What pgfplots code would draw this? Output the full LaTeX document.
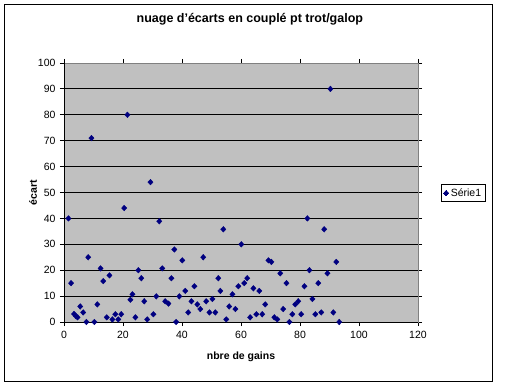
\documentclass[border=0pt]{standalone}
\usepackage{pgfplots}
\pgfplotsset{compat=1.18}
\usepackage{fontspec}
\setmainfont{Liberation Sans}
\definecolor{plotbg}{RGB}{192,192,192}
\definecolor{navy}{RGB}{0,0,128}
\begin{document}
\begin{tikzpicture}
\begin{axis}[
  at={(0,0)}, anchor=south west,
  scale only axis, width=354bp, height=259bp,
  xmin=0, xmax=120, ymin=0, ymax=100,
  xtick={0,20,...,120}, ytick={0,10,...,100},
  tick align=outside, major tick length=4bp,
  tick style={black, line width=0.8bp},
  axis background/.style={fill=plotbg},
  axis line style={draw=gray, line width=0.8bp},
  ymajorgrids, grid style={black, line width=0.8bp},
  ticklabel style={font=\fontsize{10.5bp}{12bp}\selectfont},
  /pgf/number format/assume math mode=true,
  yticklabel style={xshift=-1bp},
  xticklabel style={yshift=-2bp},
  title={nuage d'écarts en couplé pt trot/galop},
  title style={at={(0.525,1.147)}, anchor=center, font=\fontsize{12.5bp}{14bp}\selectfont\bfseries},
  xlabel={nbre de gains},
  xlabel style={at={(0.5,-0.135)}, anchor=center, font=\fontsize{10.5bp}{12bp}\selectfont\bfseries},
  ylabel={écart},
  ylabel style={at={(-0.0876,0.5)}, anchor=center, font=\fontsize{10.5bp}{12bp}\selectfont\bfseries},
  legend style={at={(1.064,0.498)}, anchor=west, draw=black, line width=0.8bp, fill=white,
    font=\fontsize{10.5bp}{12bp}\selectfont, inner xsep=2.5bp, inner ysep=2bp},
  legend cell align=left,
  legend image code/.code={\draw[#1, line width=0pt] plot coordinates {(0.15cm,0cm)};},
  clip=false,
]
\addplot[only marks, mark=diamond*, mark size=2.8bp, color=navy, mark options={xscale=1.25}]
coordinates {
(1.5,40)(2.4,15)(3.4,3.1)(4,2.3)(4.6,1.8)(5.5,6)(6.5,3.7)(7.6,0)(8.2,25)(9.3,71)
(10.3,0)(11.3,6.8)(12.4,20.7)(13.3,15.8)(14.5,1.8)(15.4,18)(16.4,1)(17.4,3)(18.4,1)(19.4,3)
(20.4,44)(21.5,80)(22.5,8.6)(23.2,10.7)(24.2,1.8)(25.2,20)(26.2,16.9)(27.2,8)(28.2,1)(29.3,54)
(30.3,3)(31.3,9.9)(32.3,38.9)(33.3,20.7)(34.3,8)(35.4,7.1)(36.4,16.9)(37.4,28)(38,0)(39.1,9.9)
(40.1,23.8)(41.1,12)(42.1,3.7)(43.2,8)(44.2,13.8)(45.2,6.8)(46.2,5)(47.2,25)(48.2,8)(49.3,3.7)
(50.3,8.9)(51.3,3.7)(52.3,16.9)(53,12)(54,35.8)(55,1)(56,6)(57.1,10.7)(58.1,5)(59.1,13.8)
(60.1,30)(61.1,15)(62.1,16.9)(63.1,1.8)(64.2,13)(65.2,3)(66.2,12)(67.2,3)(68.2,6.8)(69.3,23.8)
(70.3,23.2)(71.3,1.8)(72.3,1)(73.3,18.8)(74.3,5)(75.4,15)(76.4,0)(77.4,3)(78.4,6.8)(79.4,8)
(80.4,3)(81.5,13.8)(82.5,40)(83.2,20)(84.2,8.9)(85.2,3)(86.2,15)(87.2,3.7)(88.2,35.8)(89.3,18.8)
(90.3,90)(91.3,3.7)(92.3,23.2)(93.3,0)
};
\addlegendentry{Série1}
\draw[black, line width=0.8bp] (axis cs:0,0) -- (axis cs:120,0);
\draw[black, line width=0.8bp] (axis cs:0,0) -- (axis cs:0,100);
\end{axis}
\draw[black, line width=1bp] (-59bp,-59bp) rectangle (428bp,317bp);
\pgfresetboundingbox
\useasboundingbox (-64bp,-65bp) rectangle (448bp,322bp);
\end{tikzpicture}
\end{document}
